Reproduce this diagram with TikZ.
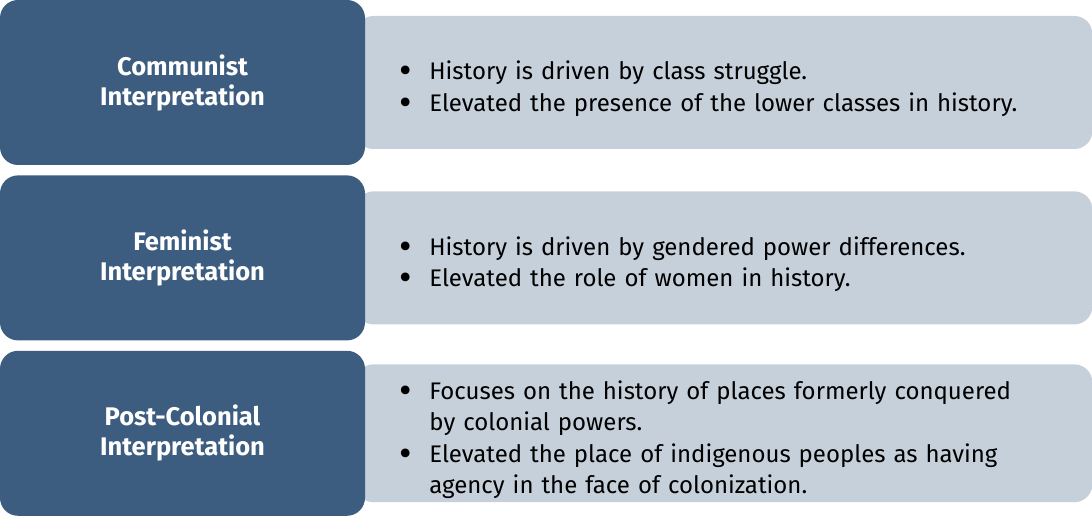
\documentclass[tikz,border=0pt]{standalone}
\usepackage{fontspec}
\setmainfont{Fira Sans}
\usetikzlibrary{positioning,backgrounds}
\definecolor{headblue}{HTML}{3C5D7F}
\definecolor{bodygrey}{HTML}{C5D0DA}
\newcommand{\bitem}[1]{\par\noindent\hangindent=22pt\hangafter=1\makebox[22pt][l]{\kern-8pt\smash{\raisebox{-0.3ex}{\scalebox{1.6}{\textbullet}}}}#1\par}

\begin{document}
\begin{tikzpicture}[x=1pt, y=1pt, node distance=10pt,
  head/.style={fill=headblue, rounded corners=18pt, minimum width=365pt, minimum height=165pt,
    text=white, align=center, font=\fontsize{25.5}{30}\selectfont\bfseries},
  body/.style={fill=bodygrey, rounded corners=18pt, minimum width=737pt, minimum height=133pt,
    inner xsep=52pt, text width=633pt, align=left, font=\fontsize{24}{31.5}\selectfont}]
\useasboundingbox (0,0) rectangle (1092,516);
\node[head] (comm) at (182.5,433.5) {Communist\\Interpretation};
\node[head, below=of comm] (fem) {Feminist\\Interpretation};
\node[head, below=of fem] (post) {Post-Colonial\\Interpretation};
\begin{scope}[on background layer]
\node[body, right=-10pt of comm] (commtxt) {\bitem{History is driven by class struggle.}
  \bitem{Elevated the presence of the lower classes in history.}};
\node[body, right=-10pt of fem] (femtxt) {\bitem{History is driven by gendered power differences.}
  \bitem{Elevated the role of women in history.}};
\node[body, right=-10pt of post] (posttxt) {\bitem{Focuses on the history of places formerly conquered\newline by colonial powers.}
  \bitem{Elevated the place of indigenous peoples as having\newline agency in the face of colonization.}};
\end{scope}
\end{tikzpicture}
\end{document}
